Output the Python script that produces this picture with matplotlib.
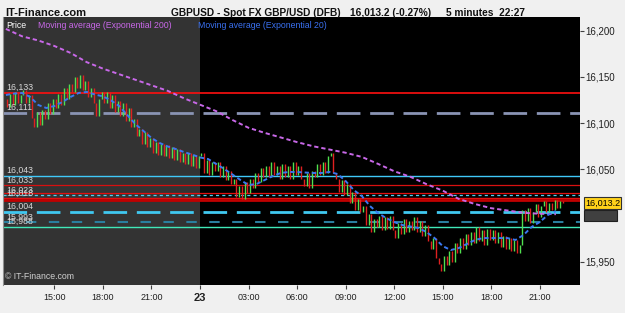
import numpy as np
import matplotlib.pyplot as plt
from matplotlib.patches import Rectangle

plt.rcParams['font.family'] = ['Liberation Sans', 'DejaVu Sans']

# hours counted from 22nd 00:00, one close every 10 minutes from 12:00
start_hour = 12.0
bar_hours = 1 / 6
first_open = 16126
closes = [
    16118, 16132, 16120, 16134, 16122, 16130,
    16136, 16122, 16130, 16106, 16096, 16112,
    16098, 16114, 16104, 16122, 16110, 16126,
    16116, 16132, 16120, 16138, 16126, 16142,
    16134, 16150, 16138, 16152, 16136, 16146,
    16128, 16138, 16122, 16108, 16126, 16134,
    16122, 16134, 16116, 16130, 16112, 16124,
    16108, 16122, 16102, 16116, 16096, 16104,
    16086, 16094, 16078, 16090, 16074, 16084,
    16068, 16080, 16066, 16078, 16064, 16076,
    16062, 16074, 16060, 16072, 16058, 16068,
    16056, 16068, 16054, 16066, 16052, 16064,
    16068, 16046, 16060, 16044, 16058, 16048,
    16058, 16042, 16054, 16038, 16048, 16034,
    16040, 16020, 16032, 16018, 16036, 16024,
    16040, 16030, 16046, 16036, 16052, 16042,
    16054, 16042, 16058, 16044, 16054, 16040,
    16056, 16042, 16054, 16040, 16058, 16044,
    16054, 16040, 16032, 16046, 16030, 16048,
    16042, 16056, 16044, 16058, 16046, 16064,
    16068, 16046, 16040, 16026, 16038, 16022,
    16034, 16014, 16026, 16006, 16018, 16004,
    16010, 15990, 16002, 15982, 15996, 15988,
    16000, 15984, 15998, 15986, 16000, 15984,
    15976, 15992, 15980, 15996, 15982, 15994,
    15984, 15998, 15982, 15994, 15978, 15990,
    15972, 15964, 15976, 15954, 15948, 15940,
    15956, 15946, 15962, 15950, 15970, 15960,
    15976, 15964, 15980, 15968, 15982, 15970,
    15988, 15972, 15984, 15968, 15986, 15974,
    15984, 15970, 15982, 15966, 15978, 15964,
    15976, 15962, 15974, 15960, 15968, 16006,
    15994, 16008, 15992, 16004, 16012, 15998,
    16010, 16016, 16004, 16014, 16006, 16017,
    16008, 16016, 16013.2,
]

# EMA 200, read hourly
ema200_hours = list(range(12, 47))
ema200 = [16202, 16194, 16189.5, 16183.5, 16176, 16166, 16159, 16153, 16147,
          16141, 16135, 16127, 16120, 16113, 16103.5, 16095, 16089.5, 16084.5,
          16079.5, 16075, 16071.5, 16068, 16063.5, 16056, 16048, 16042, 16034,
          16027, 16018, 16012.5, 16008, 16005.5, 16003, 16002, 16001.5]

# EMA 20, read every half hour
ema20_hours = np.arange(12, 46.5, 0.5)
ema20 = [16130.5, 16132, 16132.7, 16128.4, 16119.7, 16116.4, 16118.6, 16123,
         16128.4, 16132.7, 16133.8, 16131, 16129, 16124.6, 16118.6, 16108.9,
         16099, 16091.6, 16084, 16078.6, 16074.8, 16072, 16068.8, 16066.1,
         16062.9, 16061.2, 16055.8, 16050.4, 16044.5, 16038.5, 16033.1, 16034.2,
         16038.5, 16042.9, 16046.1, 16047.2, 16047.2, 16046.6, 16046.1, 16046.1,
         16047.2, 16045, 16037.4, 16027.7, 16021.2, 16010.4, 16002.8, 15997.4,
         15993, 15989.8, 15988.2, 15986.6, 15982.2, 15975.7, 15967, 15962.7,
         15964.9, 15969.3, 15973.6, 15975.7, 15975.7, 15975.7, 15975.7, 15973.6,
         15979, 15987.7, 15993, 16000.6, 16004.9]

# horizontal levels
levels = [16133, 16111, 16043, 16033, 16024.5, 16022, 16018.5, 16016.5, 16004, 15993, 15988]
level_labels = ['16,133', '16,111', '16,043', '16,033', '', '16,023', '16,018', '', '16,004', '15,993', '15,988']
level_styles = [
    dict(color='#ff1010', lw=1.2, ls='-'),
    dict(color='#8a94b4', lw=2.0, ls=(0, (8.5, 3.5))),
    dict(color='#40c8f8', lw=1.0, ls='-'),
    dict(color='#d81010', lw=0.9, ls='-'),
    dict(color='#e01010', lw=0.9, ls='-'),
    dict(color='#50d0f0', lw=0.9, ls=(0, (2.5, 2.5))),
    dict(color='#e01010', lw=1.0, ls='-'),
    dict(color='#c00000', lw=2.0, ls='-'),
    dict(color='#40c8f0', lw=2.0, ls=(0, (8.5, 3.5))),
    dict(color='#2a7f9f', lw=1.5, ls=(0, (5, 6))),
    dict(color='#40e8b8', lw=1.0, ls='-'),
]

tick_hours = [15, 18, 21, 24, 27, 30, 33, 36, 39, 42, 45]
tick_labels = ['15:00', '18:00', '21:00', '23', '03:00', '06:00', '09:00', '12:00', '15:00', '18:00', '21:00']
price_ticks = [16200, 16150, 16100, 16050, 15950]

fig = plt.figure(figsize=(6.25, 3.13), dpi=100, facecolor='#f0f0f0')
ax = fig.add_axes([0.0048, 0.0895, 0.9232, 0.8562])
ax.set_facecolor('black')
ax.set_xlim(11.82, 47.49)
ax.set_ylim(15924.9, 16214.9)

# yesterday shaded
ax.axvspan(11.82, 24, color='#333333', lw=0, zorder=0)

for val, st in zip(levels, level_styles):
    ax.axhline(val, zorder=1, **st)
for val, lab in zip(levels, level_labels):
    if lab:
        ax.text(12.0, val + 0.8, lab, color='#d8d8d8', fontsize=6.3, va='bottom', ha='left', zorder=5)

# candles
opens = [first_open] + closes[:-1]
t = start_hour + np.arange(len(closes)) * bar_hours + bar_hours / 2
cols = ['#50e050' if c >= o else '#e02020' for o, c in zip(opens, closes)]
ax.vlines(t, opens, closes, colors=cols, lw=1.0, zorder=2)

ax.plot(ema200_hours, ema200, color='#c868e8', lw=1.4, ls=(0, (2.2, 1.5)), zorder=3)
ax.plot(ema20_hours, ema20, color='#3a78f0', lw=1.4, ls=(0, (2.2, 1.5)), zorder=3)

ax.text(0.005, 0.985, 'Price', color='white', fontsize=6.3, transform=ax.transAxes, va='top')
ax.text(0.06, 0.985, 'Moving average (Exponential 200)', color='#c868e8', fontsize=6.3,
        transform=ax.transAxes, va='top')
ax.text(0.338, 0.985, 'Moving average (Exponential 20)', color='#3a70f0', fontsize=6.3,
        transform=ax.transAxes, va='top')
ax.text(0.004, 0.015, '© IT-Finance.com', color='#d0d0d0', fontsize=6.3,
        transform=ax.transAxes, va='bottom')

for s in ['top', 'right', 'bottom']:
    ax.spines[s].set_visible(False)
ax.spines['left'].set_color('#909090')

ax.yaxis.tick_right()
ax.set_yticks(price_ticks)
ax.set_yticklabels([f'{p:,}' for p in price_ticks])
ax.tick_params(axis='y', length=3, pad=1, labelsize=7, color='#404040', labelcolor='#202020')
ax.set_xticks(tick_hours)
ax.set_xticklabels(tick_labels)
ax.tick_params(axis='x', length=3, pad=3, labelsize=6.5, color='#404040', labelcolor='#202020')
for lab in ax.get_xticklabels():
    if lab.get_text() == '23':
        lab.set_fontsize(8)
        lab.set_fontweight('bold')

# header
fig.text(0.008, 0.975, 'IT-Finance.com', fontsize=8, fontweight='bold', va='top', color='#111111')
fig.text(0.274, 0.975, 'GBPUSD - Spot FX GBP/USD (DFB)', fontsize=7.3, fontweight='bold', va='top', color='#111111')
fig.text(0.560, 0.975, '16,013.2 (-0.27%)', fontsize=7.3, fontweight='bold', va='top', color='#111111')
fig.text(0.714, 0.975, '5 minutes  22:27', fontsize=7.3, fontweight='bold', va='top', color='#111111')

# current value boxes on the right
fig.patches.append(Rectangle((0.934, 0.295), 0.053, 0.033, transform=fig.transFigure,
                             facecolor='#404040', edgecolor='#202020', lw=0.8))
fig.text(0.936, 0.352, '16,013.2', fontsize=6.5, va='center', ha='left', color='black',
         bbox=dict(boxstyle='square,pad=0.15', facecolor='#ffd21a', edgecolor='#303030', lw=0.8))

fig.savefig('out.png', dpi=100, facecolor=fig.get_facecolor())
